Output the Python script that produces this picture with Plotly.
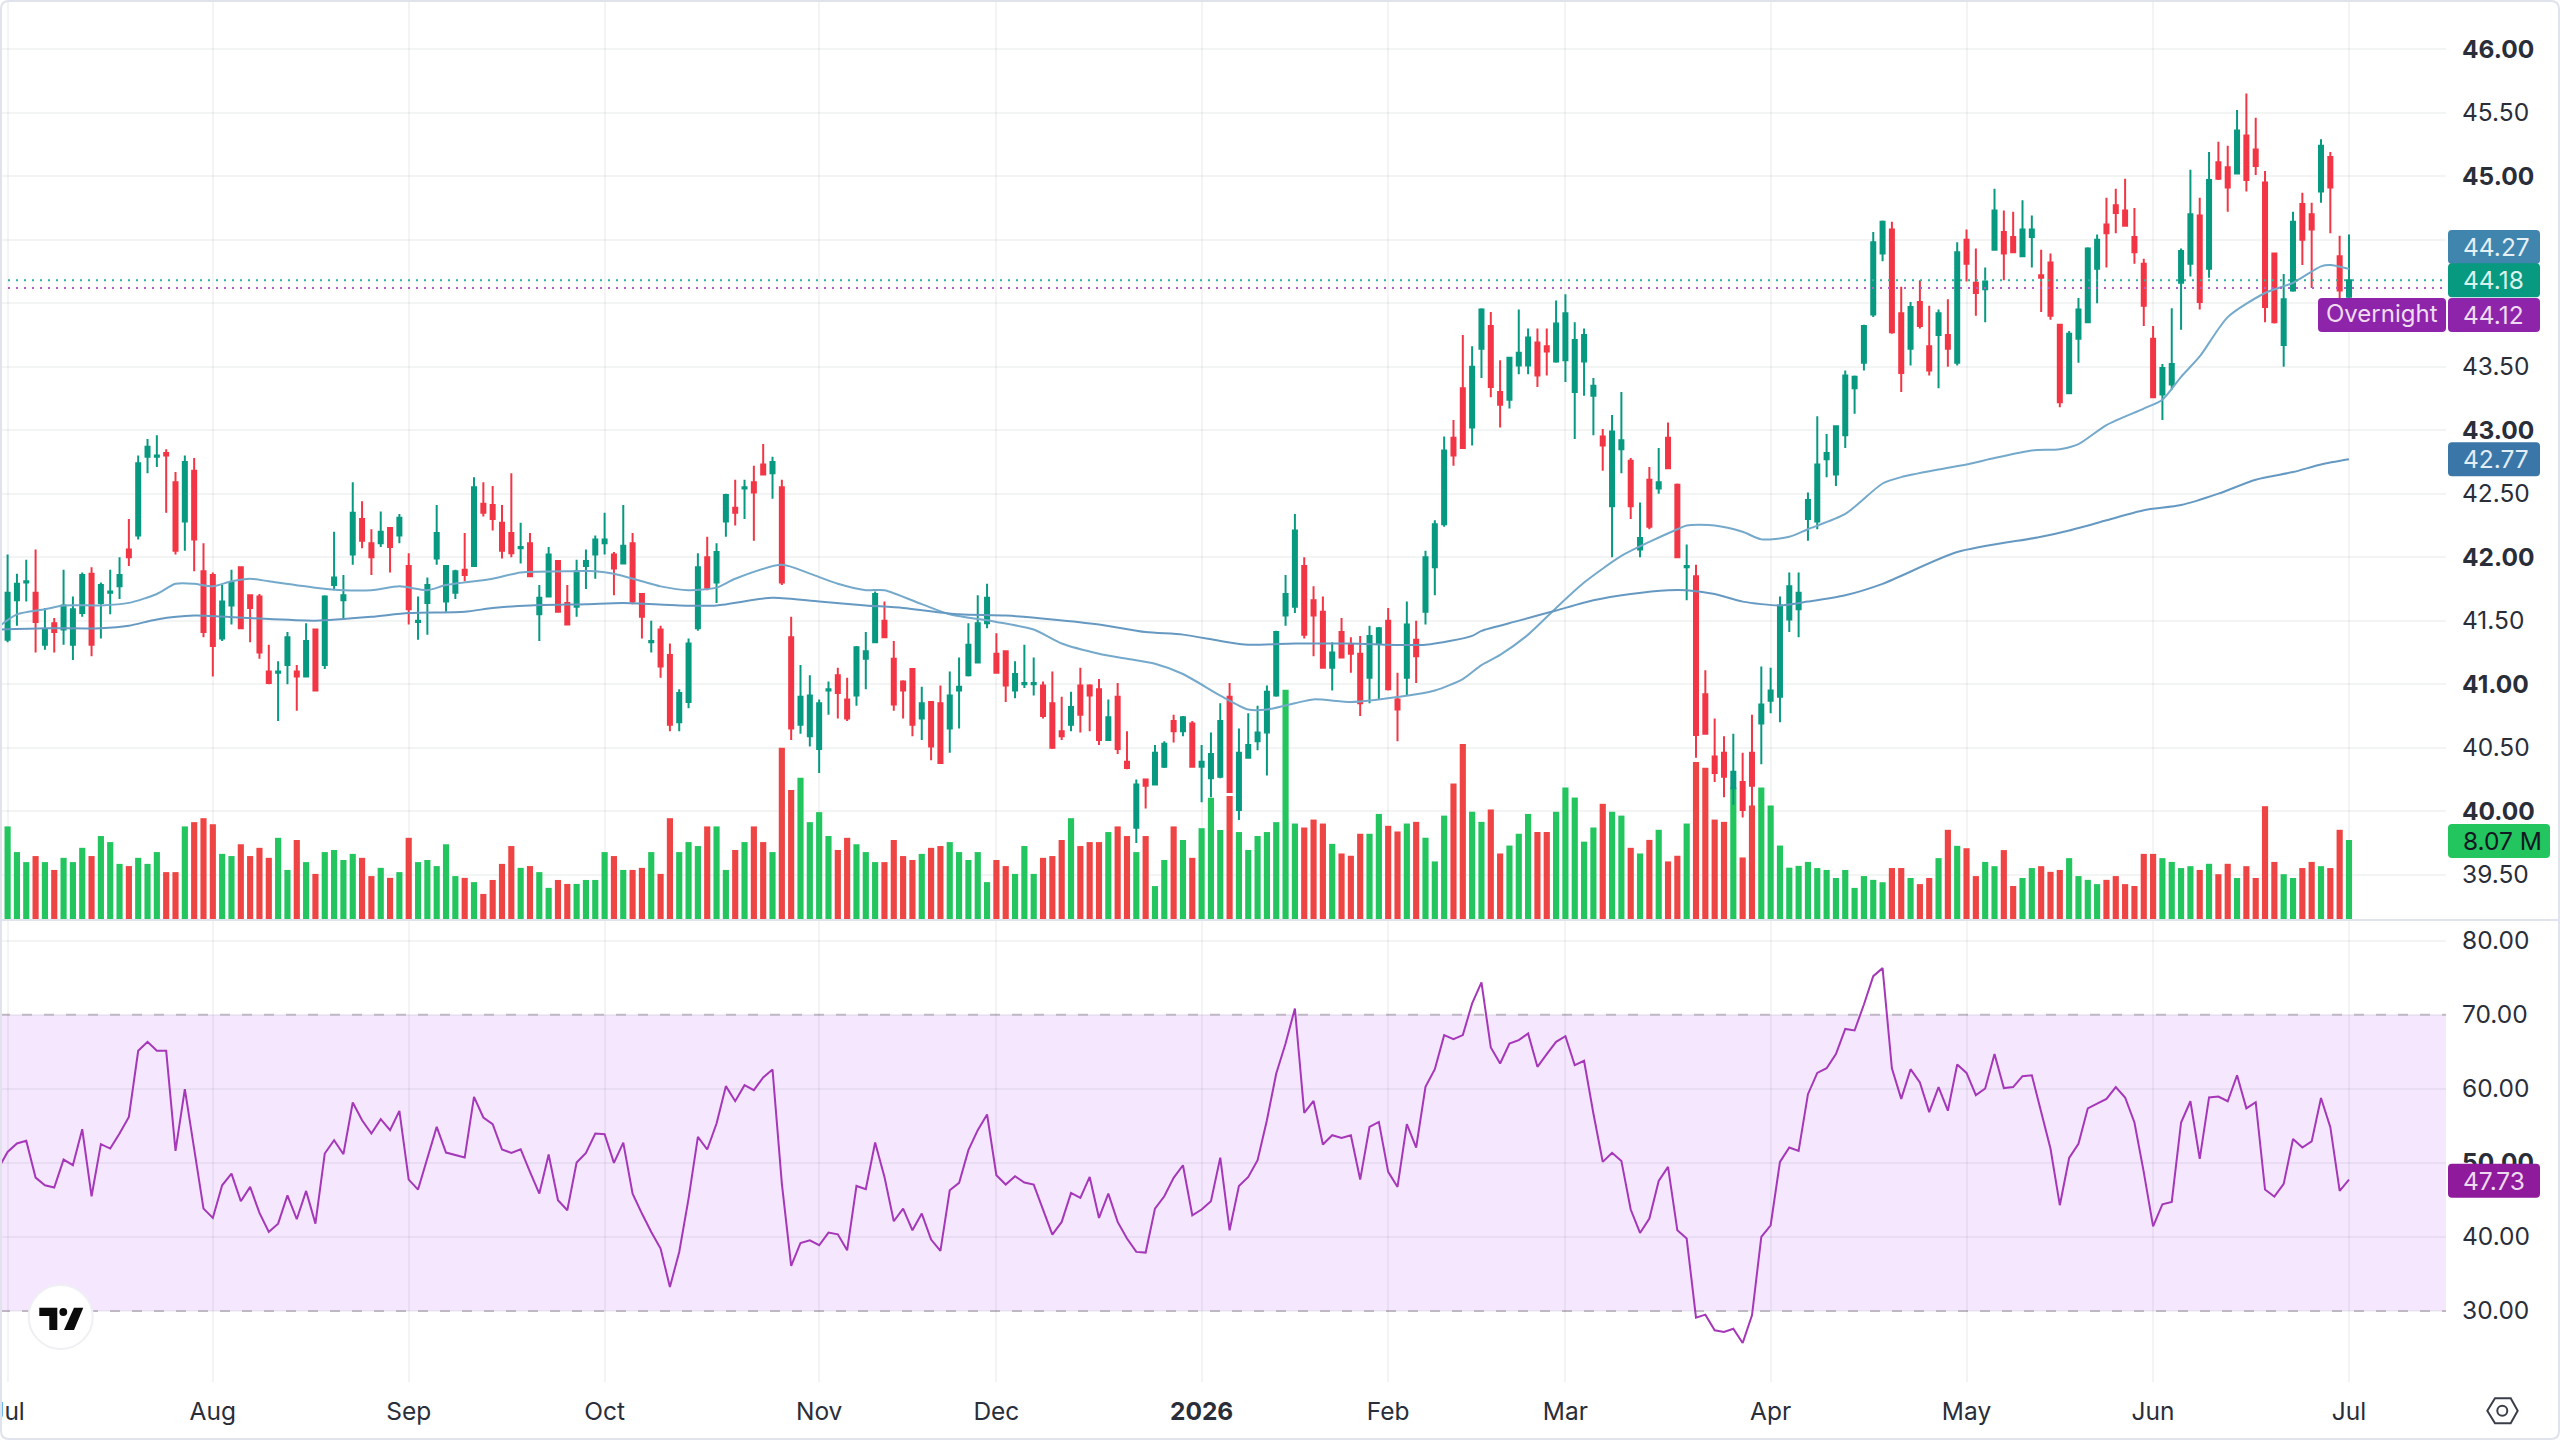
import plotly.graph_objects as go

# Daily sessions, one per trading day from July 2025 to July 2026
opens = [
    41.35, 41.66, 41.80, 41.72, 41.31, 41.48, 41.43, 41.31, 41.56, 41.87, 41.64, 41.72,
    41.77, 42.06, 42.17, 42.79, 42.79, 42.82, 42.59, 42.28, 42.68, 41.89, 41.86, 41.36,
    41.62, 41.92, 41.70, 41.69, 41.10, 41.09, 41.15, 41.10, 41.06, 41.43, 41.15, 41.78,
    41.66, 42.02, 42.30, 42.11, 42.11, 42.23, 42.17, 41.93, 41.49, 41.64, 41.99, 41.65,
    41.72, 41.90, 41.93, 42.42, 42.41, 42.27, 42.19, 42.07, 42.11, 41.55, 41.69, 41.97,
    41.64, 41.61, 41.93, 42.02, 42.11, 42.02, 41.95, 42.11, 41.71, 41.33, 41.43, 41.23,
    40.70, 40.86, 41.44, 42.00, 41.80, 42.28, 42.39, 42.54, 42.59, 42.73, 42.66, 42.55,
    41.37, 40.68, 40.59, 40.49, 40.95, 41.07, 40.88, 40.91, 41.20, 41.33, 41.50, 41.20,
    41.02, 41.12, 40.73, 40.86, 40.85, 40.65, 40.95, 41.07, 41.17, 41.48, 41.24, 41.26,
    40.95, 41.00, 41.00, 40.99, 40.85, 40.63, 40.68, 40.99, 40.99, 40.96, 40.56, 40.90,
    40.39, 39.87, 40.25, 40.21, 40.35, 40.71, 40.63, 40.69, 40.35, 40.26, 40.27, 40.90,
    40.01, 40.42, 40.55, 40.62, 40.91, 41.54, 41.61, 41.93, 41.66, 41.57, 41.13, 41.41,
    41.31, 41.24, 41.05, 41.32, 41.50, 40.88, 41.05, 41.35, 41.57, 41.92, 42.26, 42.94,
    43.33, 43.02, 43.64, 43.82, 43.30, 43.24, 43.51, 43.51, 43.69, 43.66, 43.54, 43.55,
    43.30, 43.54, 43.27, 42.95, 42.40, 42.85, 42.76, 42.06, 42.61, 42.54, 42.94, 42.57,
    41.92, 41.85, 40.92, 40.43, 40.46, 40.18, 40.23, 40.46, 40.69, 40.87, 40.90, 41.51,
    41.59, 42.30, 42.28, 42.77, 42.65, 42.96, 43.33, 43.53, 43.91, 44.39, 44.58, 43.92,
    43.64, 44.01, 43.66, 43.75, 43.75, 43.53, 44.50, 44.16, 44.11, 44.42, 44.56, 44.52,
    44.37, 44.52, 44.22, 44.32, 43.83, 43.29, 43.72, 43.85, 44.27, 44.62, 44.77, 44.73,
    44.52, 44.31, 43.72, 43.28, 43.36, 44.16, 44.31, 44.69, 44.27, 45.11, 45.07, 45.02,
    45.32, 45.21, 44.95, 44.39, 43.67, 44.10, 44.78, 44.70, 44.88, 45.15, 44.37, 44.05,
]
highs = [
    42.02, 41.87, 41.98, 42.06, 41.60, 41.52, 41.90, 41.69, 41.88, 41.92, 41.80, 41.90,
    42.00, 42.30, 42.80, 42.93, 42.96, 42.85, 42.67, 42.80, 42.78, 42.11, 41.88, 41.78,
    41.90, 41.92, 41.70, 41.71, 41.31, 41.18, 41.41, 41.15, 41.48, 41.43, 41.70, 42.20,
    41.86, 42.59, 42.44, 42.22, 42.36, 42.23, 42.34, 42.03, 41.69, 41.84, 42.41, 41.93,
    41.90, 42.19, 42.63, 42.59, 42.56, 42.41, 42.66, 42.27, 42.19, 41.78, 42.08, 41.97,
    41.78, 41.98, 42.06, 42.17, 42.35, 42.04, 42.41, 42.19, 41.71, 41.50, 41.46, 41.32,
    40.96, 41.36, 42.03, 42.16, 42.11, 42.50, 42.61, 42.61, 42.72, 42.89, 42.79, 42.61,
    41.53, 41.15, 41.07, 40.88, 41.02, 41.13, 41.05, 41.30, 41.41, 41.73, 41.65, 41.34,
    41.03, 41.12, 40.98, 40.86, 40.99, 41.10, 41.21, 41.48, 41.70, 41.79, 41.40, 41.26,
    41.18, 41.31, 41.21, 41.02, 41.10, 40.90, 40.94, 41.13, 41.00, 41.04, 40.88, 41.01,
    40.63, 40.25, 40.25, 40.52, 40.55, 40.76, 40.75, 40.71, 40.52, 40.62, 40.85, 41.01,
    40.65, 40.77, 40.83, 40.99, 41.42, 41.86, 42.34, 42.00, 41.77, 41.69, 41.33, 41.52,
    41.37, 41.38, 41.46, 41.45, 41.60, 41.09, 41.65, 41.50, 42.05, 42.29, 42.95, 43.08,
    43.75, 43.66, 43.96, 43.93, 43.55, 43.57, 43.95, 43.80, 43.80, 43.80, 44.02, 44.07,
    43.85, 43.80, 43.41, 43.01, 43.12, 43.30, 42.78, 42.43, 42.71, 42.86, 43.06, 42.58,
    42.10, 41.94, 41.11, 40.73, 40.59, 40.61, 40.46, 40.76, 41.14, 41.13, 41.69, 41.88,
    41.88, 42.51, 43.11, 42.97, 43.03, 43.47, 43.43, 43.83, 44.56, 44.65, 44.64, 44.13,
    44.01, 44.18, 43.98, 43.95, 44.03, 44.48, 44.58, 44.43, 44.28, 44.90, 44.73, 44.72,
    44.81, 44.69, 44.42, 44.39, 43.83, 43.78, 44.04, 44.44, 44.54, 44.83, 44.90, 44.98,
    44.75, 44.35, 43.82, 43.52, 43.96, 44.43, 45.05, 44.83, 45.19, 45.27, 45.24, 45.52,
    45.65, 45.46, 45.04, 44.39, 44.23, 44.72, 44.87, 44.79, 45.29, 45.19, 44.53, 44.54,
]
lows = [
    41.33, 41.46, 41.65, 41.25, 41.27, 41.25, 41.31, 41.19, 41.53, 41.22, 41.36, 41.55,
    41.67, 41.93, 42.14, 42.66, 42.71, 42.35, 42.02, 42.05, 41.89, 41.37, 41.06, 41.34,
    41.47, 41.44, 41.33, 41.20, 41.00, 40.71, 41.00, 40.79, 41.06, 40.95, 41.12, 41.74,
    41.52, 41.94, 42.07, 41.86, 42.08, 41.88, 42.11, 41.47, 41.35, 41.39, 41.94, 41.57,
    41.67, 41.81, 41.93, 42.32, 42.21, 41.99, 42.00, 41.95, 41.85, 41.34, 41.69, 41.57,
    41.47, 41.53, 41.75, 41.83, 42.02, 41.70, 41.95, 41.63, 41.36, 41.25, 41.05, 40.63,
    40.63, 40.81, 41.42, 41.74, 41.64, 42.16, 42.25, 42.30, 42.13, 42.65, 42.46, 41.78,
    40.56, 40.61, 40.51, 40.30, 40.76, 40.73, 40.71, 40.83, 40.96, 41.33, 41.37, 40.79,
    40.73, 40.59, 40.56, 40.40, 40.38, 40.46, 40.65, 41.06, 41.17, 41.44, 41.09, 40.86,
    40.89, 40.97, 40.91, 40.73, 40.49, 40.56, 40.63, 40.62, 40.63, 40.52, 40.56, 40.45,
    40.33, 39.75, 40.02, 40.21, 40.34, 40.54, 40.59, 40.35, 40.07, 40.11, 40.26, 40.15,
    39.93, 40.42, 40.48, 40.28, 40.90, 41.46, 41.56, 41.36, 41.22, 41.13, 40.95, 41.21,
    41.09, 40.75, 40.85, 40.88, 40.95, 40.55, 40.91, 41.01, 41.47, 41.70, 42.24, 42.72,
    42.86, 42.88, 43.41, 43.26, 43.02, 43.17, 43.44, 43.44, 43.34, 43.43, 43.53, 43.38,
    42.93, 43.27, 42.96, 42.68, 42.00, 42.66, 42.30, 42.00, 42.22, 42.50, 42.70, 42.00,
    41.66, 40.42, 40.61, 40.23, 40.11, 40.05, 39.95, 40.04, 40.37, 40.77, 40.70, 41.41,
    41.37, 42.13, 42.22, 42.63, 42.56, 42.86, 43.13, 43.47, 43.89, 44.33, 43.76, 43.30,
    43.51, 43.80, 43.43, 43.33, 43.50, 43.51, 44.17, 43.90, 43.85, 44.42, 44.18, 44.40,
    44.37, 44.28, 43.93, 43.87, 43.18, 43.29, 43.53, 43.85, 44.00, 44.28, 44.55, 44.61,
    44.31, 43.82, 43.26, 43.08, 43.32, 43.79, 44.21, 43.95, 44.20, 44.97, 44.72, 45.02,
    44.88, 45.01, 43.85, 43.84, 43.50, 44.09, 44.30, 44.12, 44.79, 44.55, 44.02, 44.00,
]
closes = [
    41.72, 41.79, 41.81, 41.49, 41.43, 41.41, 41.62, 41.59, 41.86, 41.31, 41.78, 41.73,
    41.86, 42.00, 42.74, 42.87, 42.80, 42.80, 42.05, 42.75, 42.14, 41.41, 41.30, 41.65,
    41.80, 41.44, 41.60, 41.25, 41.01, 41.10, 41.37, 41.06, 41.34, 40.95, 41.69, 41.84,
    41.70, 42.35, 42.13, 42.00, 42.20, 42.08, 42.31, 41.59, 41.50, 41.78, 42.19, 41.93,
    41.89, 41.86, 42.55, 42.35, 42.30, 42.05, 42.03, 42.08, 41.85, 41.68, 42.02, 41.57,
    41.47, 41.89, 41.97, 42.14, 42.14, 41.91, 42.09, 41.65, 41.53, 41.34, 41.14, 40.68,
    40.93, 41.32, 41.92, 41.76, 42.04, 42.49, 42.35, 42.55, 42.51, 42.65, 42.75, 41.80,
    40.65, 40.90, 40.91, 40.85, 40.96, 40.93, 40.73, 41.29, 41.26, 41.71, 41.37, 40.84,
    40.95, 40.68, 40.85, 40.51, 40.38, 40.91, 40.98, 41.31, 41.48, 41.68, 41.09, 40.99,
    41.08, 41.01, 41.01, 40.75, 40.50, 40.59, 40.82, 40.76, 40.91, 40.56, 40.74, 40.49,
    40.34, 40.21, 40.20, 40.46, 40.53, 40.63, 40.74, 40.35, 40.39, 40.45, 40.71, 40.15,
    40.46, 40.52, 40.62, 40.94, 41.41, 41.71, 42.21, 41.39, 41.54, 41.13, 41.25, 41.21,
    41.24, 40.85, 41.38, 41.44, 40.96, 40.80, 41.47, 41.22, 42.00, 42.26, 42.84, 42.80,
    42.86, 43.50, 43.95, 43.34, 43.20, 43.57, 43.61, 43.73, 43.43, 43.62, 43.84, 43.92,
    43.71, 43.75, 43.35, 42.88, 42.99, 42.92, 42.40, 42.15, 42.24, 42.59, 42.70, 42.00,
    41.93, 40.60, 40.61, 40.30, 40.27, 40.31, 40.01, 40.20, 40.84, 40.95, 41.62, 41.77,
    41.72, 42.45, 42.73, 42.82, 43.03, 43.43, 43.42, 43.82, 44.48, 44.64, 43.77, 43.45,
    43.97, 43.82, 43.47, 43.92, 43.64, 44.40, 44.31, 44.08, 44.17, 44.73, 44.39, 44.40,
    44.58, 44.58, 44.20, 43.90, 43.22, 43.76, 43.95, 44.43, 44.50, 44.55, 44.71, 44.61,
    44.40, 43.98, 43.26, 43.49, 43.52, 44.41, 44.70, 44.01, 44.97, 44.98, 44.91, 45.36,
    44.97, 45.08, 43.97, 43.85, 44.03, 44.64, 44.50, 44.58, 45.24, 44.91, 44.10, 44.18,
]
# Shares traded, in millions
volumes = [
    9.44, 6.85, 5.84, 6.45, 5.84, 5.05, 6.27, 5.84, 7.28, 6.45, 8.47, 7.86,
    5.66, 5.44, 6.27, 5.66, 6.85, 4.83, 4.83, 9.44, 9.87, 10.27, 9.66, 6.67,
    6.45, 7.64, 6.45, 7.28, 6.27, 8.29, 5.05, 8.07, 5.84, 4.65, 6.85, 7.06,
    6.05, 6.67, 6.27, 4.43, 5.26, 4.25, 4.83, 8.29, 5.84, 6.05, 5.44, 7.64,
    4.43, 4.25, 3.82, 2.63, 4.04, 5.66, 7.46, 5.26, 5.44, 4.83, 3.24, 4.04,
    3.64, 3.64, 4.04, 4.04, 6.85, 6.45, 5.05, 5.05, 5.26, 6.85, 4.65, 10.27,
    6.85, 7.86, 7.46, 9.44, 9.44, 5.05, 7.06, 7.86, 9.44, 7.86, 6.85, 17.37,
    13.12, 14.34, 9.87, 10.88, 8.47, 7.06, 8.29, 7.64, 6.85, 5.84, 5.84, 8.07,
    6.45, 6.05, 6.67, 7.28, 7.46, 7.86, 6.85, 6.05, 6.85, 3.82, 6.05, 5.44,
    4.65, 7.46, 4.65, 6.27, 6.45, 8.07, 10.27, 7.46, 7.86, 7.86, 8.87, 9.44,
    8.47, 6.85, 8.47, 3.42, 6.05, 9.44, 8.07, 6.27, 9.26, 12.33, 9.08, 12.51,
    8.87, 7.06, 8.47, 8.87, 9.87, 23.23, 9.73, 9.33, 10.13, 9.73, 7.68, 6.71,
    6.48, 8.70, 8.70, 10.70, 9.50, 8.93, 9.73, 9.90, 8.30, 5.91, 10.53, 13.77,
    17.76, 10.92, 9.90, 11.15, 6.71, 7.51, 8.70, 10.70, 8.88, 8.88, 10.92, 13.37,
    12.35, 7.90, 9.33, 11.72, 10.92, 10.53, 7.28, 6.71, 8.08, 9.10, 5.91, 6.48,
    9.73, 15.94, 15.37, 10.13, 9.90, 13.37, 6.31, 11.55, 13.37, 11.55, 7.51, 5.28,
    5.46, 5.86, 5.24, 5.05, 4.24, 5.05, 3.24, 4.43, 4.05, 3.81, 5.24, 5.24,
    4.24, 3.62, 4.24, 6.24, 9.10, 7.48, 7.24, 4.43, 5.86, 5.43, 7.05, 3.43,
    4.24, 5.24, 5.43, 4.86, 5.05, 6.24, 4.43, 4.05, 3.62, 4.05, 4.43, 3.62,
    3.43, 6.67, 6.67, 6.24, 5.86, 5.24, 5.43, 5.05, 5.67, 4.62, 5.67, 4.24,
    5.43, 4.24, 11.48, 5.86, 4.62, 4.24, 5.24, 5.86, 5.43, 5.24, 9.10, 8.07,
]
# Relative strength, one value per session plus the session before the first one
rsi_values = [
    49.23,
    51.48, 52.61, 52.97, 48.01, 46.97, 46.66, 50.44, 49.68, 54.54, 45.49, 52.52, 51.93,
    53.96, 56.21, 65.13, 66.35, 65.13, 65.13, 51.62, 59.95, 51.71, 43.82, 42.56, 46.97,
    48.55, 44.81, 46.75, 43.24, 40.67, 41.79, 45.62, 42.38, 46.21, 41.79, 51.26, 53.06,
    51.17, 58.15, 55.76, 53.96, 55.90, 54.41, 57.02, 47.74, 46.39, 50.58, 54.86, 51.39,
    51.03, 50.71, 58.91, 56.12, 55.22, 51.80, 51.35, 51.84, 48.78, 45.85, 51.12, 44.95,
    43.60, 50.04, 51.35, 53.96, 53.87, 50.00, 52.74, 45.85, 43.15, 40.67, 38.42, 33.24,
    37.97, 45.17, 53.51, 51.80, 55.31, 60.36, 58.33, 60.49, 59.81, 61.53, 62.61, 47.20,
    36.07, 39.18, 39.54, 38.87, 40.58, 40.35, 38.19, 46.88, 46.43, 52.74, 48.10, 42.11,
    43.82, 40.89, 43.15, 39.63, 38.10, 46.30, 47.29, 51.71, 54.41, 56.53, 48.33, 47.07,
    48.19, 47.34, 47.07, 43.60, 40.31, 42.02, 45.94, 45.26, 48.10, 42.56, 45.85, 42.02,
    39.77, 37.97, 37.88, 43.82, 45.49, 47.97, 49.68, 42.92, 43.69, 44.81, 50.71, 40.89,
    46.88, 48.10, 50.35, 55.76, 62.07, 66.12, 70.85, 56.75, 58.37, 52.47, 53.73, 53.37,
    53.73, 47.74, 54.86, 55.53, 48.78, 46.75, 55.22, 52.07, 60.27, 62.65, 67.25, 66.71,
    67.25, 71.53, 74.37, 65.58, 63.42, 66.12, 66.57, 67.47, 62.97, 64.68, 66.35, 67.11,
    63.19, 63.78, 56.66, 50.13, 51.35, 50.26, 43.69, 40.53, 42.47, 47.56, 49.45, 40.89,
    39.77, 29.09, 29.50, 27.38, 27.15, 27.60, 25.67, 29.41, 40.00, 41.57, 50.13, 52.07,
    51.62, 59.27, 62.14, 62.78, 64.70, 68.08, 67.88, 71.39, 75.22, 76.30, 62.78, 58.64,
    62.65, 60.87, 56.85, 60.23, 57.04, 63.29, 62.14, 59.15, 60.04, 64.70, 60.10, 60.23,
    61.70, 61.83, 56.72, 51.94, 44.28, 50.66, 52.58, 57.36, 58.00, 58.64, 60.23, 58.83,
    55.45, 48.75, 41.41, 44.41, 44.73, 55.45, 58.32, 50.54, 58.83, 58.96, 58.32, 61.83,
    57.36, 58.19, 46.39, 45.43, 47.15, 53.22, 52.07, 52.90, 58.76, 54.81, 46.20, 47.73,
]
# Moving averages, sampled at the listed sessions
fast_ma_sessions = [
    -1, 1, 4, 6, 10, 13, 16, 18, 20, 22, 24, 26, 28, 33, 36, 39, 42, 45, 47, 52, 55, 61, 63, 65,
    68, 70, 73, 76, 78, 83, 86, 89, 92, 94, 98, 101, 106, 110, 113, 117, 120, 123, 126, 130, 133,
    135, 138, 140, 144, 147, 151, 153, 156, 158, 160, 163, 166, 169, 173, 176, 179, 180, 183, 186,
    188, 191, 193, 197, 201, 203, 207, 210, 213, 217, 220, 222, 225, 229, 231, 233, 235, 238, 242,
    245, 248, 249, 251,
]
fast_ma_values = [
    41.45, 41.55, 41.59, 41.62, 41.62, 41.64, 41.71, 41.79, 41.79, 41.77, 41.81, 41.83, 41.81,
    41.76, 41.74, 41.74, 41.77, 41.74, 41.78, 41.83, 41.88, 41.89, 41.89, 41.87, 41.81, 41.77,
    41.74, 41.76, 41.83, 41.94, 41.87, 41.79, 41.74, 41.74, 41.63, 41.55, 41.49, 41.43, 41.32,
    41.24, 41.20, 41.16, 41.08, 40.91, 40.80, 40.80, 40.85, 40.88, 40.86, 40.88, 40.92, 40.95,
    41.04, 41.15, 41.23, 41.39, 41.60, 41.80, 42.01, 42.12, 42.22, 42.25, 42.25, 42.20, 42.14,
    42.16, 42.22, 42.34, 42.58, 42.63, 42.69, 42.73, 42.78, 42.84, 42.85, 42.89, 43.04, 43.17,
    43.24, 43.42, 43.58, 43.89, 44.08, 44.16, 44.29, 44.30, 44.27,
]
slow_ma_sessions = [
    -1, 4, 10, 13, 16, 20, 26, 33, 39, 43, 49, 52, 56, 62, 66, 72, 76, 82, 87, 92, 96, 102, 107,
    112, 117, 122, 126, 130, 133, 138, 144, 152, 157, 158, 162, 166, 170, 174, 178, 180, 183, 186,
    190, 193, 197, 201, 209, 218, 221, 225, 229, 233, 237, 241, 245, 248, 251,
]
slow_ma_values = [
    41.43, 41.44, 41.44, 41.46, 41.51, 41.54, 41.52, 41.50, 41.53, 41.56, 41.57, 41.60, 41.62,
    41.63, 41.64, 41.62, 41.62, 41.68, 41.65, 41.62, 41.60, 41.55, 41.54, 41.51, 41.47, 41.41,
    41.39, 41.34, 41.31, 41.32, 41.32, 41.31, 41.38, 41.42, 41.50, 41.58, 41.66, 41.71, 41.74,
    41.74, 41.71, 41.65, 41.62, 41.65, 41.70, 41.79, 42.04, 42.16, 42.21, 42.29, 42.37, 42.41,
    42.50, 42.61, 42.67, 42.73, 42.77,
]
month_sessions = [0, 22, 43, 64, 87, 106, 128, 148, 167, 189, 210, 230, 251]
month_labels = ["Jul", "Aug", "Sep", "Oct", "Nov", "Dec", "<b>2026</b>", "Feb", "Mar", "Apr", "May", "Jun", "Jul"]
price_ticks = [39.5, 40, 40.5, 41, 41.5, 42, 42.5, 43, 43.5, 44, 44.5, 45, 45.5, 46]
covered_price_ticks = [44, 44.5]  # gridlines only: the value tags sit over these labels
rsi_ticks = [30, 40, 50, 60, 70, 80]

fast_ma_last = 44.27
last_price = 44.18
overnight_price = 44.12
slow_ma_last = 42.77
last_volume = "8.07 M"
last_rsi = 47.73

UP, DOWN = "#089981", "#f23645"
VOL_UP, VOL_DOWN = "#22c55e", "#ef4444"
FAST_MA, SLOW_MA = "#74a9cb", "#6699c2"
PURPLE = "#8e24aa"
GRID = "rgba(42,46,57,0.055)"
BORDER = "#e0e3eb"
TEXT = "#2a2e39"
FONT = "Inter, Roboto, sans-serif"
FONT_SIZE = 24.5

# Layout of the drawing surface, in page pixels
PAGE_W, PAGE_H = 2560, 1440
PLOT_W, PLOT_H = 2446, 1382
PANE_SPLIT = 920
PRICE_RANGE = [39.143, 46.387]
RSI_RANGE = [20.4, 82.8]
X_RANGE = [-0.815, 261.4]
lower_share = (PLOT_H - PANE_SPLIT) / PLOT_H


def fx(px):
    return px / PLOT_W


def fy(py):
    return 1 - py / PLOT_H


def price_py(p):
    return PANE_SPLIT * (PRICE_RANGE[1] - p) / (PRICE_RANGE[1] - PRICE_RANGE[0])


def rsi_py(v):
    return PANE_SPLIT + (PLOT_H - PANE_SPLIT) * (RSI_RANGE[1] - v) / (RSI_RANGE[1] - RSI_RANGE[0])


def rounded(x0, y0, x1, y1, r=4):
    """SVG path of a rounded rectangle given in page pixels."""
    return (
        f"M {fx(x0 + r)} {fy(y0)} L {fx(x1 - r)} {fy(y0)} Q {fx(x1)} {fy(y0)} {fx(x1)} {fy(y0 + r)} "
        f"L {fx(x1)} {fy(y1 - r)} Q {fx(x1)} {fy(y1)} {fx(x1 - r)} {fy(y1)} "
        f"L {fx(x0 + r)} {fy(y1)} Q {fx(x0)} {fy(y1)} {fx(x0)} {fy(y1 - r)} "
        f"L {fx(x0)} {fy(y0 + r)} Q {fx(x0)} {fy(y0)} {fx(x0 + r)} {fy(y0)} Z"
    )


def polygon(points):
    head, *rest = points
    path = f"M {fx(head[0])} {fy(head[1])} "
    path += " ".join(f"L {fx(x)} {fy(y)}" for x, y in rest)
    return path + " Z"


def paper_shape(path, fill, line_color=None, line_width=0):
    return dict(
        type="path", path=path, xref="paper", yref="paper", layer="above", fillcolor=fill,
        line=dict(color=line_color or "rgba(0,0,0,0)", width=line_width),
    )


def paper_circle(cx, cy, r, fill, line_color=None, line_width=0):
    return dict(
        type="circle", xref="paper", yref="paper", layer="above",
        x0=fx(cx - r), x1=fx(cx + r), y0=fy(cy + r), y1=fy(cy - r), fillcolor=fill,
        line=dict(color=line_color or "rgba(0,0,0,0)", width=line_width),
    )


sessions = list(range(len(closes)))
rsi_sessions = list(range(-1, len(closes)))
vol_colors = [VOL_UP if c >= o else VOL_DOWN for o, c in zip(opens, closes)]

fig = go.Figure()
fig.add_trace(go.Bar(
    x=sessions, y=volumes, yaxis="y", marker=dict(color=vol_colors, line=dict(width=0)),
    width=0.66, hoverinfo="skip",
))
fig.add_trace(go.Candlestick(
    x=sessions, open=opens, high=highs, low=lows, close=closes, yaxis="y2",
    increasing=dict(line=dict(color=UP, width=2), fillcolor=UP),
    decreasing=dict(line=dict(color=DOWN, width=2), fillcolor=DOWN),
    whiskerwidth=0, hoverinfo="skip",
))
fig.add_trace(go.Scatter(
    x=fast_ma_sessions, y=fast_ma_values, yaxis="y2", mode="lines",
    line=dict(color=FAST_MA, width=2, shape="spline", smoothing=0.7), hoverinfo="skip",
))
fig.add_trace(go.Scatter(
    x=slow_ma_sessions, y=slow_ma_values, yaxis="y2", mode="lines",
    line=dict(color=SLOW_MA, width=2, shape="spline", smoothing=0.7), hoverinfo="skip",
))
fig.add_trace(go.Scatter(
    x=X_RANGE, y=[last_price, last_price], yaxis="y2", mode="lines",
    line=dict(color="#2fb39c", width=2, dash="2px,6px"), hoverinfo="skip",
))
fig.add_trace(go.Scatter(
    x=X_RANGE, y=[overnight_price, overnight_price], yaxis="y2", mode="lines",
    line=dict(color="#b45cc8", width=2, dash="2px,6px"), hoverinfo="skip",
))
fig.add_trace(go.Scatter(
    x=rsi_sessions, y=rsi_values, yaxis="y3", mode="lines",
    line=dict(color="#a537b8", width=2), hoverinfo="skip",
))

shapes = [
    # Overbought / oversold band of the oscillator
    dict(type="rect", xref="paper", yref="y3", x0=0, x1=1, y0=30, y1=70, layer="below",
         fillcolor="#f4e7fe", line=dict(width=0)),
]
for level in (30, 70):
    shapes.append(dict(type="line", xref="paper", yref="y3", x0=0, x1=1, y0=level, y1=level, layer="below",
                       line=dict(color="#c9bfcd", width=2, dash="10px,12px")))

# Value tags on the price scale
TAG_L, TAG_R = 2448, 2540
TAG_TEXT_X = 2461
tags = [
    (230, 264, "#3f85ae", f"{fast_ma_last:.2f}", "#e4eff6", TAG_R),
    (price_py(last_price) - 17, price_py(last_price) + 17, UP, f"{last_price:.2f}", "#d9f2ed", TAG_R),
    (298, 332, PURPLE, f"{overnight_price:.2f}", "#eedcf2", TAG_R),
    (price_py(slow_ma_last) - 17, price_py(slow_ma_last) + 17, "#3a77a8", f"{slow_ma_last:.2f}", "#e2edf5", TAG_R),
    (824, 858, VOL_UP, last_volume, "#131722", 2550),
    (rsi_py(last_rsi) - 16, rsi_py(last_rsi) + 18, "#8f1a9b", f"{last_rsi:.2f}", "#eedaf0", TAG_R),
]
annotations = []
for top, bottom, fill, label, color, right in tags:
    shapes.append(paper_shape(rounded(TAG_L, top, right, bottom), fill))
    annotations.append(dict(
        x=fx(TAG_TEXT_X), y=fy((top + bottom) / 2), xref="paper", yref="paper", text=label, showarrow=False,
        xanchor="left", yanchor="middle", font=dict(family=FONT, size=FONT_SIZE, color=color),
    ))
shapes.append(paper_shape(rounded(2318, 298, 2446, 332), PURPLE))
annotations.append(dict(
    x=fx(2382), y=fy(314), xref="paper", yref="paper", text="Overnight", showarrow=False,
    xanchor="center", yanchor="middle", font=dict(family=FONT, size=24, color="#eedcf2"),
))

# Pane separator and outer frame
shapes.append(dict(type="line", xref="paper", yref="paper", layer="above",
                   x0=0, x1=fx(PAGE_W), y0=fy(PANE_SPLIT), y1=fy(PANE_SPLIT),
                   line=dict(color=BORDER, width=2)))
shapes.append(paper_shape(rounded(1, 1, PAGE_W - 1, PAGE_H - 1, r=8), "rgba(0,0,0,0)", BORDER, 2))

# Round badge with the brand mark
shapes.append(paper_circle(60.7, 1317, 32, "#ffffff", "#eef0f3", 2))
shapes.append(paper_shape(polygon([(39.3, 1307.7), (57.3, 1307.7), (57.3, 1330), (49.3, 1330), (49.3, 1316), (39.3, 1316)]), "#0b0b0b"))
shapes.append(paper_shape(polygon([(74, 1307.7), (83.3, 1307.7), (74, 1330), (64, 1330)]), "#0b0b0b"))
shapes.append(paper_circle(63.3, 1312, 3.9, "#0b0b0b"))

# Settings glyph in the scale corner
shapes.append(paper_shape(polygon([(2487.3, 1410.7), (2495, 1398.3), (2510.7, 1398.3), (2517.7, 1410.7), (2510.7, 1423.3), (2495, 1423.3)]),
                          "rgba(0,0,0,0)", "#3a3e48", 2))
shapes.append(paper_circle(2502.3, 1410.7, 5, "rgba(0,0,0,0)", "#3a3e48", 2))

axis_font = dict(family=FONT, size=FONT_SIZE, color=TEXT)


def scale_text(tick, bold):
    return f"<b>{tick:.2f}</b>" if bold else f"{tick:.2f}"


price_text = ["" if t in covered_price_ticks else scale_text(t, t == int(t)) for t in price_ticks]

fig.update_layout(
    width=PAGE_W, height=PAGE_H, autosize=False,
    margin=dict(l=0, r=PAGE_W - PLOT_W, t=0, b=PAGE_H - PLOT_H, pad=0, autoexpand=False),
    paper_bgcolor="#ffffff", plot_bgcolor="#ffffff", showlegend=False,
    boxgap=0.57, boxgroupgap=0, bargap=0.3, shapes=shapes, annotations=annotations,
    font=dict(family=FONT),
    xaxis=dict(
        domain=[0, 1], anchor="y3", range=X_RANGE, tickmode="array", tickvals=month_sessions,
        ticktext=month_labels, tickangle=0, tickfont=axis_font, showgrid=True, gridcolor=GRID, gridwidth=2,
        zeroline=False, showline=False, ticks="", rangeslider=dict(visible=False), ticklabelstandoff=12,
        ticklabeloverflow="allow",
    ),
    yaxis=dict(
        domain=[lower_share, 1], range=[0, 92.8], visible=False, showgrid=False, zeroline=False,
    ),
    yaxis2=dict(
        domain=[lower_share, 1], overlaying="y", side="right", anchor="x", range=PRICE_RANGE,
        tickmode="array", tickvals=price_ticks, ticktext=price_text,
        tickfont=axis_font, showgrid=True, gridcolor=GRID, gridwidth=2, zeroline=False, showline=False,
        ticks="", ticklabelstandoff=15,
    ),
    yaxis3=dict(
        domain=[0, lower_share], side="right", anchor="x", range=RSI_RANGE,
        tickmode="array", tickvals=rsi_ticks, ticktext=[scale_text(t, t == 50) for t in rsi_ticks],
        tickfont=axis_font, showgrid=True, gridcolor=GRID, gridwidth=2, zeroline=False, showline=False,
        ticks="", ticklabelstandoff=15,
    ),
)

fig.write_html("out.html", config=dict(displayModeBar=False))
